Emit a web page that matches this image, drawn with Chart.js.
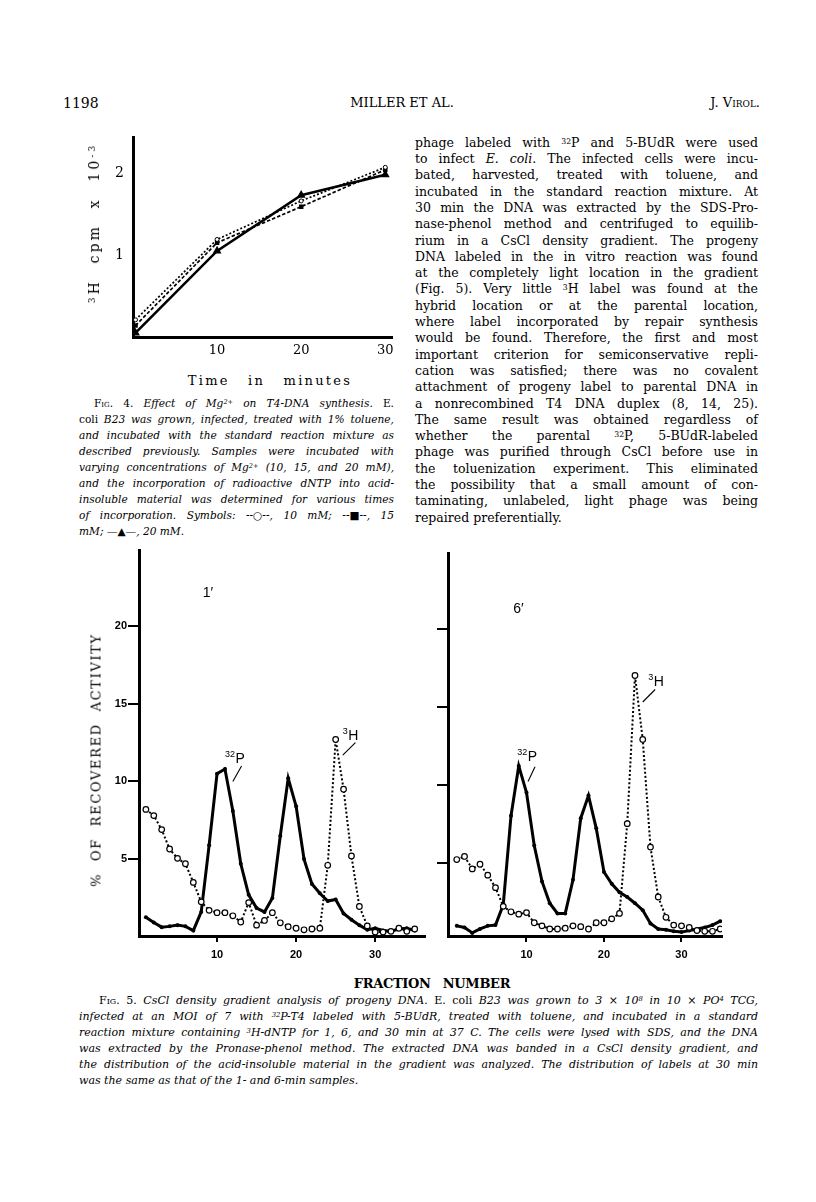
<!DOCTYPE html>
<html>
<head>
<meta charset="utf-8">
<script src="https://cdn.jsdelivr.net/npm/chart.js@4.4.1/dist/chart.umd.min.js"></script>
<style>
  html, body { margin: 0; padding: 0; background: #fff; }
  body { width: 816px; height: 1202px; position: relative; overflow: hidden; color: #000; font-family: "DejaVu Serif", serif; }
  .abs { position: absolute; white-space: nowrap; }
  .col { position: absolute; }
  .col > div { white-space: nowrap; }
  .jl { display: inline-block; white-space: nowrap; }
  sup { font-size: 0.62em; vertical-align: 0.45em; line-height: 0; }
  .sc { font-variant: small-caps; font-style: normal; }
  .rm { font-style: normal; }
  .mid { transform: translate(-50%, -50%); }
  .vt { transform: translate(-50%, -50%) rotate(-90deg); }
  canvas { position: absolute; }
</style>
</head>
<body>

<!-- running head -->
<div class="abs" style="left:63px; top:95px; font-size:14px; line-height:16px;">1198</div>
<div class="abs" style="left:402px; top:95px; font-size:13px; line-height:16px; transform:translateX(-50%);">MILLER ET AL.</div>
<div class="abs" style="right:56px; top:95px; font-size:13px; line-height:16px;">J. V<span style="font-variant:small-caps">irol</span>.</div>

<!-- Fig. 4 -->
<canvas id="fig4" width="300" height="250" style="left:100px; top:120px;"></canvas>
<div class="abs vt" data-span="160" style="left:94px; top:223px; font-size:14px; word-spacing:8px;"><sup>3</sup>H cpm x 10<sup>-3</sup></div>
<div class="abs mid" data-span="164" style="left:270px; top:380px; font-size:13px; word-spacing:12px;">Time in minutes</div>

<div class="col" style="left:79px; top:395px; width:315px; font-size:10.6px; line-height:16px; font-style:italic;">
  <div style="padding-left:15px"><span class="jl"><span class="sc">Fig</span><span class="rm">. 4.</span> Effect of Mg<sup>2+</sup> on T4-DNA synthesis. <span class="rm">E.</span></span></div>
  <div><span class="jl"><span class="rm">coli</span> B23 was grown, infected, treated with 1% toluene,</span></div>
  <div><span class="jl">and incubated with the standard reaction mixture as</span></div>
  <div><span class="jl">described previously. Samples were incubated with</span></div>
  <div><span class="jl">varying concentrations of Mg<sup>2+</sup> (10, 15, and 20 mM),</span></div>
  <div><span class="jl">and the incorporation of radioactive dNTP into acid-</span></div>
  <div><span class="jl">insoluble material was determined for various times</span></div>
  <div><span class="jl">of incorporation. Symbols: --○--, 10 mM; --■--, 15</span></div>
  <div><span>mM; —▲—, 20 mM.</span></div>
</div>

<!-- body text -->
<div class="col" style="left:415px; top:134.8px; width:343px; font-size:12.5px; line-height:16.3px;">
  <div><span class="jl">phage labeled with <sup>32</sup>P and 5-BUdR were used</span></div>
  <div><span class="jl">to infect <i>E. coli</i>. The infected cells were incu-</span></div>
  <div><span class="jl">bated, harvested, treated with toluene, and</span></div>
  <div><span class="jl">incubated in the standard reaction mixture. At</span></div>
  <div><span class="jl">30 min the DNA was extracted by the SDS-Pro-</span></div>
  <div><span class="jl">nase-phenol method and centrifuged to equilib-</span></div>
  <div><span class="jl">rium in a CsCl density gradient. The progeny</span></div>
  <div><span class="jl">DNA labeled in the in vitro reaction was found</span></div>
  <div><span class="jl">at the completely light location in the gradient</span></div>
  <div><span class="jl">(Fig. 5). Very little <sup>3</sup>H label was found at the</span></div>
  <div><span class="jl">hybrid location or at the parental location,</span></div>
  <div><span class="jl">where label incorporated by repair synthesis</span></div>
  <div><span class="jl">would be found. Therefore, the first and most</span></div>
  <div><span class="jl">important criterion for semiconservative repli-</span></div>
  <div><span class="jl">cation was satisfied; there was no covalent</span></div>
  <div><span class="jl">attachment of progeny label to parental DNA in</span></div>
  <div><span class="jl">a nonrecombined T4 DNA duplex (8, 14, 25).</span></div>
  <div><span class="jl">The same result was obtained regardless of</span></div>
  <div><span class="jl">whether the parental <sup>32</sup>P, 5-BUdR-labeled</span></div>
  <div><span class="jl">phage was purified through CsCl before use in</span></div>
  <div><span class="jl">the toluenization experiment. This eliminated</span></div>
  <div><span class="jl">the possibility that a small amount of con-</span></div>
  <div><span class="jl">taminating, unlabeled, light phage was being</span></div>
  <div><span>repaired preferentially.</span></div>
</div>

<!-- Fig. 5 -->
<canvas id="fig5a" width="335" height="430" style="left:95px; top:540px;"></canvas>
<canvas id="fig5b" width="325" height="430" style="left:405px; top:540px;"></canvas>
<div class="abs vt" data-span="254" style="left:96px; top:760px; font-size:13px; word-spacing:6px;">% OF RECOVERED ACTIVITY</div>
<div class="abs mid" data-span="156" style="left:432px; top:983px; font-size:13px; font-weight:bold; word-spacing:8px;">FRACTION NUMBER</div>

<div class="col" style="left:79px; top:993px; width:679px; font-size:11px; line-height:16px; font-style:italic;">
  <div style="padding-left:20px"><span class="jl"><span class="sc">Fig</span><span class="rm">. 5.</span> CsCl density gradient analysis of progeny DNA. <span class="rm">E. coli</span> B23 was grown to 3 × 10<sup>8</sup> in 10 × PO<sup>4</sup> TCG,</span></div>
  <div><span class="jl">infected at an MOI of 7 with <sup>32</sup>P-T4 labeled with 5-BUdR, treated with toluene, and incubated in a standard</span></div>
  <div><span class="jl">reaction mixture containing <sup>3</sup>H-dNTP for 1, 6, and 30 min at 37 C. The cells were lysed with SDS, and the DNA</span></div>
  <div><span class="jl">was extracted by the Pronase-phenol method. The extracted DNA was banded in a CsCl density gradient, and</span></div>
  <div><span class="jl">the distribution of the acid-insoluble material in the gradient was analyzed. The distribution of labels at 30 min</span></div>
  <div><span>was the same as that of the 1- and 6-min samples.</span></div>
</div>

<script>
// ---- Fig. 4: 3H cpm x 10^-3 against time (min) ----
const fig4Minutes = [0.3, 10, 20, 30];
const cpm10mM = [0.21, 1.19, 1.66, 2.07];
const cpm15mM = [0.14, 1.15, 1.59, 2.04];
const cpm20mM = [0.05, 1.05, 1.73, 1.98];
const fig4XTicks = [10, 20, 30];
const fig4YTicks = [1, 2];

// ---- Fig. 5: % of recovered activity against fraction number ----
const fractions = [1, 2, 3, 4, 5, 6, 7, 8, 9, 10, 11, 12, 13, 14, 15, 16, 17, 18,
  19, 20, 21, 22, 23, 24, 25, 26, 27, 28, 29, 30, 31, 32, 33, 34, 35];
const p32At1min = [1.25, 0.92, 0.62, 0.67, 0.75, 0.67, 0.4, 1.6, 5.9, 10.5, 10.8, 8.1, 4.7, 2.7, 1.85, 1.6, 2.5, 6.5,
  10.2, 8.4, 5.0, 3.4, 2.8, 2.3, 2.4, 1.5, 1.1, 0.75, 0.45, 0.55, 0.4, 0.35, 0.5, 0.55, 0.4];
const h3At1min = [8.2, 7.8, 6.9, 5.65, 5.05, 4.7, 3.5, 2.25, 1.7, 1.55, 1.55, 1.35, 0.95, 2.2, 0.75, 1.05, 1.55, 0.9,
  0.65, 0.55, 0.45, 0.5, 0.55, 4.6, 12.7, 9.5, 5.2, 1.95, 0.7, 0.3, 0.3, 0.35, 0.55, 0.35, 0.5];
const p32At6min = [0.95, 0.85, 0.5, 0.75, 0.95, 1.0, 2.3, 8.0, 11.2, 9.5, 6.1, 3.8, 2.4, 1.75, 1.75, 3.9, 7.85, 9.3,
  7.2, 4.4, 3.65, 3.1, 2.8, 2.4, 1.95, 1.1, 0.75, 0.7, 0.6, 0.55, 0.65, 0.75, 0.85, 1.0, 1.25];
const h3At6min = [5.2, 5.4, 4.6, 4.9, 4.2, 3.4, 2.2, 1.85, 1.7, 1.8, 1.15, 0.95, 0.75, 0.75, 0.8, 0.95, 0.9, 0.75,
  1.15, 1.15, 1.4, 1.75, 7.5, 17.0, 12.9, 6.0, 2.8, 1.5, 1.0, 0.95, 0.85, 0.65, 0.6, 0.6, 0.75];
const fig5XTicks = [10, 20, 30];
const fig5YTicks = [5, 10, 15, 20];

const ink = '#000';
const serif = '"DejaVu Serif", serif';
const sans = '"Liberation Sans", Arial, sans-serif';

// justify each printed line to its column width
document.querySelectorAll('.col').forEach(col => {
  const W = col.clientWidth;
  col.querySelectorAll('.jl').forEach(span => {
    const avail = W - parseFloat(getComputedStyle(span.parentElement).paddingLeft);
    const spaces = (span.textContent.match(/ /g) || []).length;
    if (spaces) span.style.wordSpacing = ((avail - span.getBoundingClientRect().width) / spaces) + 'px';
  });
});
// spread axis titles over the length they have in the print
document.querySelectorAll('[data-span]').forEach(el => {
  const n = el.textContent.length;
  el.style.letterSpacing = ((+el.dataset.span - el.offsetWidth) / n) + 'px';
});

function points(xs, ys) {
  return xs.map((x, i) => ({ x: x, y: ys[i] }));
}

// labels drawn at data coordinates (32P, 3H, time of the sample)
function makeNotes(notes) {
  return {
    id: 'notes',
    afterDatasetsDraw(chart) {
      const ctx = chart.ctx;
      const X = v => chart.scales.x.getPixelForValue(v);
      const Y = v => chart.scales.y.getPixelForValue(v);
      ctx.save();
      ctx.fillStyle = ink;
      ctx.strokeStyle = ink;
      ctx.lineWidth = 1.1;
      notes.forEach(n => {
        if (n.from) {
          ctx.beginPath();
          ctx.moveTo(X(n.from[0]), Y(n.from[1]));
          ctx.lineTo(X(n.to[0]), Y(n.to[1]));
          ctx.stroke();
          return;
        }
        let px = X(n.at[0]);
        const py = Y(n.at[1]);
        if (n.sup) {
          ctx.font = '9px ' + sans;
          ctx.fillText(n.sup, px, py - 6);
          px += ctx.measureText(n.sup).width + 0.5;
        }
        ctx.font = '14px ' + sans;
        ctx.fillText(n.text, px, py);
      });
      ctx.restore();
    }
  };
}

const baseOptions = {
  responsive: false,
  animation: false,
  events: [],
  devicePixelRatio: 1,
  plugins: { legend: { display: false }, tooltip: { enabled: false } }
};

// Fig. 4
new Chart(document.getElementById('fig4'), {
  type: 'line',
  data: {
    datasets: [
      { data: points(fig4Minutes, cpm10mM), borderColor: ink, borderWidth: 1.7, borderDash: [2, 2],
        pointStyle: 'circle', pointRadius: 2, pointBackgroundColor: '#fff', pointBorderColor: ink, pointBorderWidth: 1 },
      { data: points(fig4Minutes, cpm15mM), borderColor: ink, borderWidth: 1.7, borderDash: [3.5, 2],
        pointStyle: 'rect', pointRadius: 2, pointBackgroundColor: ink, pointBorderColor: ink },
      { data: points(fig4Minutes, cpm20mM), borderColor: ink, borderWidth: 2.6,
        pointStyle: 'triangle', pointRadius: 2.5, pointBackgroundColor: ink, pointBorderColor: ink }
    ]
  },
  options: Object.assign({}, baseOptions, {
    layout: { autoPadding: false, padding: { left: 0, right: 8, top: 10, bottom: 0 } },
    scales: {
      x: {
        type: 'linear', min: 0, max: 30.8,
        afterFit: s => { s.height = 33; },
        afterBuildTicks: s => { s.ticks = fig4XTicks.map(v => ({ value: v })); },
        grid: { display: false, drawTicks: false },
        border: { display: true, color: ink, width: 3 },
        ticks: { padding: 6, color: ink, font: { family: serif, size: 13 }, maxRotation: 0, autoSkip: false }
      },
      y: {
        type: 'linear', min: 0, max: 2.435,
        afterFit: s => { s.width = 33; },
        afterBuildTicks: s => { s.ticks = fig4YTicks.map(v => ({ value: v })); },
        grid: { display: false, drawTicks: false },
        border: { display: true, color: ink, width: 3 },
        ticks: { padding: 9, color: ink, font: { family: serif, size: 14 } }
      }
    }
  })
});

function fractionChart(id, p32, h3, range, showYLabels, notes) {
  return new Chart(document.getElementById(id), {
    type: 'line',
    data: {
      datasets: [
        { label: '3H', data: points(fractions, h3), borderColor: ink, borderWidth: 2, borderDash: [2, 2.2],
          pointStyle: 'circle', pointRadius: 2.8, pointBackgroundColor: '#fff', pointBorderColor: ink, pointBorderWidth: 1.2 },
        { label: '32P', data: points(fractions, p32), borderColor: ink, borderWidth: 3,
          pointStyle: 'circle', pointRadius: 2, pointBackgroundColor: ink, pointBorderColor: ink, pointBorderWidth: 0 }
      ]
    },
    options: Object.assign({}, baseOptions, {
      layout: { autoPadding: false, padding: range.pad },
      scales: {
        x: {
          type: 'linear', min: range.x[0], max: range.x[1],
          afterFit: s => { s.height = 34; },
          afterBuildTicks: s => { s.ticks = fig5XTicks.map(v => ({ value: v })); },
          grid: { display: true, drawOnChartArea: false, drawTicks: true, tickLength: 6, color: ink, lineWidth: 2 },
          border: { display: true, color: ink, width: 3 },
          ticks: { padding: 6, color: ink, font: { family: sans, size: 11, weight: 'bold' }, maxRotation: 0, autoSkip: false }
        },
        y: {
          type: 'linear', min: range.y[0], max: range.y[1],
          afterFit: s => { s.width = range.yWidth; },
          afterBuildTicks: s => { s.ticks = fig5YTicks.map(v => ({ value: v })); },
          grid: { display: true, drawOnChartArea: false, drawTicks: true, tickLength: 11, color: ink, lineWidth: 2 },
          border: { display: true, color: ink, width: 3 },
          ticks: { padding: 1, color: ink, font: { family: sans, size: 11, weight: 'bold' },
                   callback: v => showYLabels ? String(v) : '' }
        }
      }
    }),
    plugins: [makeNotes(notes)]
  });
}

fractionChart('fig5a', p32At1min, h3At1min,
  { x: [0.13, 36.3], y: [0.05, 24.9], yWidth: 44, pad: { left: 0, right: 5, top: 10, bottom: 0 } },
  true,
  [
    { sup: '32', text: 'P', at: [11.0, 11.2] },
    { from: [13.1, 11.0], to: [12.0, 10.0] },
    { sup: '3', text: 'H', at: [25.9, 12.7] },
    { from: [27.5, 12.5], to: [25.9, 11.7] },
    { text: '1\u2032', at: [8.2, 21.9] }
  ]);

fractionChart('fig5b', p32At6min, h3At6min,
  { x: [-0.13, 35.23], y: [0.3, 24.85], yWidth: 43, pad: { left: 0, right: 8, top: 13, bottom: 0 } },
  false,
  [
    { sup: '32', text: 'P', at: [8.8, 11.5] },
    { from: [11.1, 11.15], to: [10.2, 10.2] },
    { sup: '3', text: 'H', at: [25.7, 16.3] },
    { from: [26.6, 16.1], to: [25.0, 15.3] },
    { text: '6\u2032', at: [8.3, 21.0] }
  ]);
</script>
</body>
</html>
